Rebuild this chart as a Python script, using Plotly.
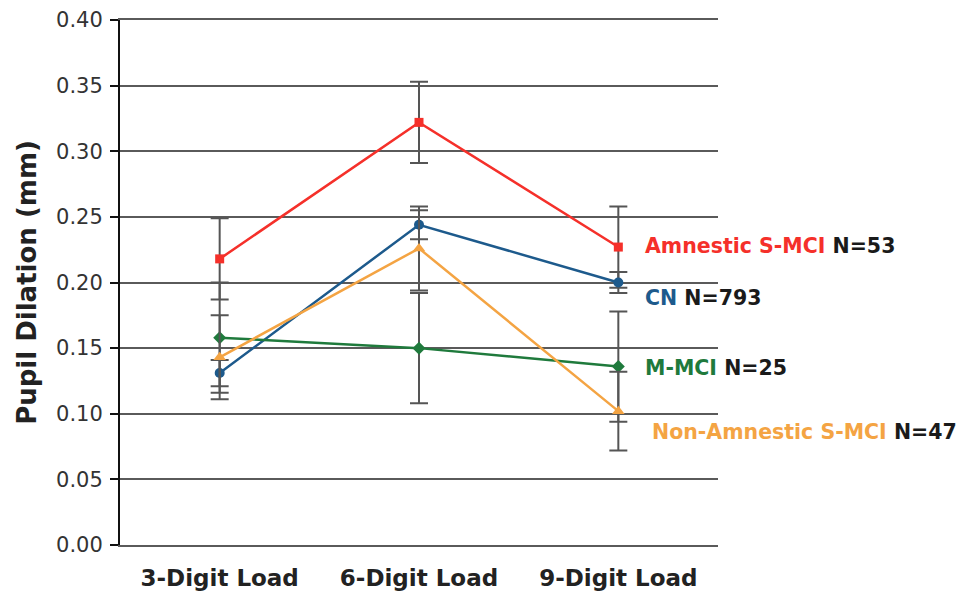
import plotly.graph_objects as go

categories = ["3-Digit Load", "6-Digit Load", "9-Digit Load"]

groups = ["Amnestic S-MCI", "CN", "M-MCI", "Non-Amnestic S-MCI"]
n_labels = ["N=53", "N=793", "N=25", "N=47"]
amnestic = [0.218, 0.322, 0.227]
amnestic_err = [0.031, 0.031, 0.031]
cn = [0.131, 0.244, 0.200]
cn_err = [0.010, 0.011, 0.008]
mmci = [0.158, 0.150, 0.136]
mmci_err = [0.042, 0.042, 0.042]
nonamnestic = [0.143, 0.226, 0.102]
nonamnestic_err = [0.032, 0.032, 0.030]

yticks = [0.0, 0.05, 0.10, 0.15, 0.20, 0.25, 0.30, 0.35, 0.40]
ytick_text = ["0.00", "0.05", "0.10", "0.15", "0.20", "0.25", "0.30", "0.35", "0.40"]

series = [
    (groups[0], amnestic, amnestic_err, "#f5302a", "square", 9),
    (groups[1], cn, cn_err, "#1d5a8c", "circle", 10),
    (groups[2], mmci, mmci_err, "#1f7a3c", "diamond", 10),
    (groups[3], nonamnestic, nonamnestic_err, "#f4a443", "triangle-up", 11),
]

FONT = "DejaVu Sans, Arial, sans-serif"
fig = go.Figure()
for name, vals, errs, color, sym, sz in series:
    fig.add_trace(go.Scatter(
        x=categories, y=vals, name=name, mode="lines+markers",
        line=dict(color=color, width=2.5),
        marker=dict(symbol=sym, size=sz, color=color),
        error_y=dict(type="data", array=errs, visible=True,
                     color="#555555", thickness=2, width=9),
    ))

label_yshift = [1, -15, -1, -21]
label_xshift = [25, 25, 25, 32]
for i, (name, vals, errs, color, sym, sz) in enumerate(series):
    fig.add_annotation(
        x=categories[-1], y=vals[-1], xref="x", yref="y",
        text=f"<b><span style='color:{color}'>{name}</span> <span style='color:#1a1a1a'>{n_labels[i]}</span></b>",
        showarrow=False, xanchor="left", yanchor="middle",
        xshift=label_xshift[i], yshift=label_yshift[i],
        font=dict(family=FONT, size=20.5),
    )

fig.update_layout(
    width=957, height=584,
    margin=dict(l=112, r=247, t=12, b=47),
    paper_bgcolor="white", plot_bgcolor="white",
    showlegend=False,
    font=dict(family=FONT, color="#222222"),
)
fig.update_xaxes(
    type="category", range=[-0.5, 2.5], automargin=False,
    showgrid=False, showline=True, linecolor="#5a5a5a", linewidth=2, mirror=True,
    ticks="",
    tickfont=dict(family=FONT, size=23, color="#222222", weight="bold"),
    ticklabelstandoff=11,
    zeroline=False,
)
fig.update_yaxes(
    range=[0, 0.40], tickvals=yticks, ticktext=ytick_text, automargin=False,
    showgrid=True, gridcolor="#5a5a5a", gridwidth=2,
    showline=True, linecolor="#111111", linewidth=2,
    ticks="outside", ticklen=8, tickcolor="#111111", tickwidth=2,
    tickfont=dict(family=FONT, size=21, color="#333333"),
    ticklabelstandoff=3,
    title=dict(text="<b>Pupil Dilation (mm)</b>", font=dict(family=FONT, size=26, color="#222222"), standoff=12),
    zeroline=False,
)

fig.write_html("out.html")
